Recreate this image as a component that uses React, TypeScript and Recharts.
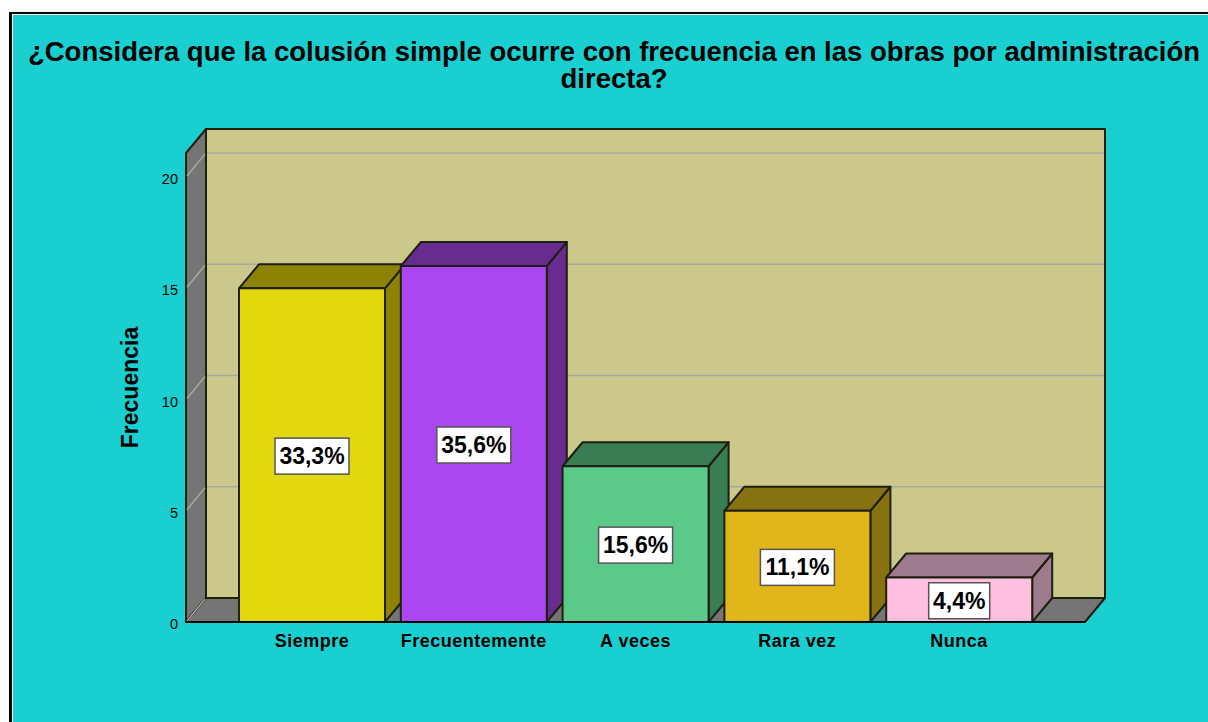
import React from 'react';
import { BarChart, Bar, XAxis, YAxis, CartesianGrid, LabelList, usePlotArea } from 'recharts';

const categories = ['Siempre', 'Frecuentemente', 'A veces', 'Rara vez', 'Nunca'];
const frequencies = [15, 16, 7, 5, 2];
const percentLabels = ['33,3%', '35,6%', '15,6%', '11,1%', '4,4%'];
const frontColors = ['#e1d90e', '#aa47f0', '#5bc98a', '#e1b61a', '#ffbfdf'];
const topColors = ['#8c8204', '#682b90', '#3a7d55', '#877212', '#9e7a8d'];
const yTicks = [0, 5, 10, 15, 20];

const data = categories.map((name, i) => ({ name, value: frequencies[i], label: percentLabels[i] }));

const FONT = '"Liberation Sans", Arial, sans-serif';
const DX = 20;
const DY = -24;
const EDGE = '#1f1f10';

const pts = (list: number[][]) => list.map((p) => p.join(',')).join(' ');

function Walls() {
  const area = usePlotArea();
  if (!area) return null;
  const { x, y, width: w, height: h } = area;
  return (
    <g stroke={EDGE} strokeWidth={2} strokeLinejoin="round">
      <rect x={x + DX} y={y + DY} width={w} height={h} fill="#ccc88c" />
      <polygon points={pts([[x, y], [x + DX, y + DY], [x + DX, y + h + DY], [x, y + h]])} fill="#757575" />
      <polygon points={pts([[x, y + h], [x + DX, y + h + DY], [x + w + DX, y + h + DY], [x + w, y + h]])} fill="#757575" />
    </g>
  );
}

function GridLine(props: any) {
  const { x1, x2, y1, index } = props;
  // the top of the plot is the wall's own edge, not a tick
  if (y1 < 154) return <g key={index} />;
  return (
    <g key={index} stroke="#a8a8a0" strokeWidth={1.5} fill="none">
      <line x1={x1 + 1} y1={y1 - 1} x2={x1 + DX - 1} y2={y1 + DY + 1} />
      {y1 < 600 && <line x1={x1 + DX + 1} y1={y1 + DY} x2={x2 + DX - 1} y2={y1 + DY} />}
    </g>
  );
}

function Bar3D(props: any) {
  const { x, y, width: w, height: h, index } = props;
  return (
    <g stroke={EDGE} strokeWidth={2} strokeLinejoin="round">
      <polygon points={pts([[x + w, y], [x + w + DX, y + DY], [x + w + DX, y + h + DY], [x + w, y + h]])} fill={topColors[index]} />
      <polygon points={pts([[x, y], [x + DX, y + DY], [x + w + DX, y + DY], [x + w, y]])} fill={topColors[index]} />
      <rect x={x} y={y} width={w} height={h} fill={frontColors[index]} />
    </g>
  );
}

function PercentBox(props: any) {
  const { x, y, width: w, height: h, index } = props;
  const label = percentLabels[index];
  const boxW = label.length === 4 ? 61 : 74;
  const cx = x + w / 2;
  const cy = y + h / 2 + 1;
  return (
    <g>
      <rect x={cx - boxW / 2} y={cy - 18} width={boxW} height={36} fill="#ffffff" stroke="#555555" strokeWidth={1.5} />
      <text x={cx} y={cy + 8} textAnchor="middle" fontFamily={FONT} fontWeight="bold" fontSize={23} fill="#000">
        {label}
      </text>
    </g>
  );
}

export default function App() {
  return (
    <div style={{ position: 'absolute', left: 0, top: 0, width: 1208, height: 722, overflow: 'hidden', background: '#fff' }}>
      <div
        style={{
          position: 'absolute',
          left: 9,
          top: 12,
          width: 1199,
          height: 710,
          boxSizing: 'border-box',
          background: '#19cfcf',
          borderLeft: '3px solid #000',
          borderTop: '2px solid #000',
          boxShadow: 'inset 1px 1px 0 #fff',
        }}
      />
      <div
        style={{
          position: 'absolute',
          left: 14,
          width: 1200,
          top: 38,
          textAlign: 'center',
          fontFamily: FONT,
          fontWeight: 'bold',
          fontSize: 27.5,
          lineHeight: '27px',
          color: '#000',
          whiteSpace: 'nowrap',
        }}
      >
        ¿Considera que la colusión simple ocurre con frecuencia en las obras por administración
        <br />
        directa?
      </div>
      <div style={{ position: 'absolute', left: 0, top: 0 }}>
        <BarChart
          width={1208}
          height={722}
          data={data}
          margin={{ top: 153, right: 123, bottom: 0, left: 156 }}
          style={{ background: 'transparent' }}
        >
          <Walls />
          <CartesianGrid vertical={false} horizontal={GridLine} zIndex={1} />
          <XAxis
            dataKey="name"
            height={100}
            padding={{ left: 45, right: 45 }}
            axisLine={{ stroke: '#000', strokeWidth: 2 }}
            tickLine={false}
            interval={0}
            tick={{ fontFamily: FONT, fontWeight: 'bold', fontSize: 18, fill: '#000', letterSpacing: 0.5, dy: 4 }}
          />
          <YAxis
            width={30}
            domain={[0, 21.08]}
            ticks={yTicks}
            allowDataOverflow
            axisLine={false}
            tickLine={false}
            tick={{ fontFamily: FONT, fontSize: 14.5, fill: '#000', dy: 2 }}
            label={{
              value: 'Frecuencia',
              angle: -90,
              position: 'insideLeft',
              dx: -31,
              textAnchor: 'middle',
              style: { fontFamily: FONT, fontWeight: 'bold', fontSize: 23, fill: '#000', textAnchor: 'middle' },
            }}
          />
          <Bar dataKey="value" barSize={146} isAnimationActive={false} shape={Bar3D}>
            <LabelList dataKey="label" content={PercentBox} />
          </Bar>
        </BarChart>
      </div>
    </div>
  );
}
